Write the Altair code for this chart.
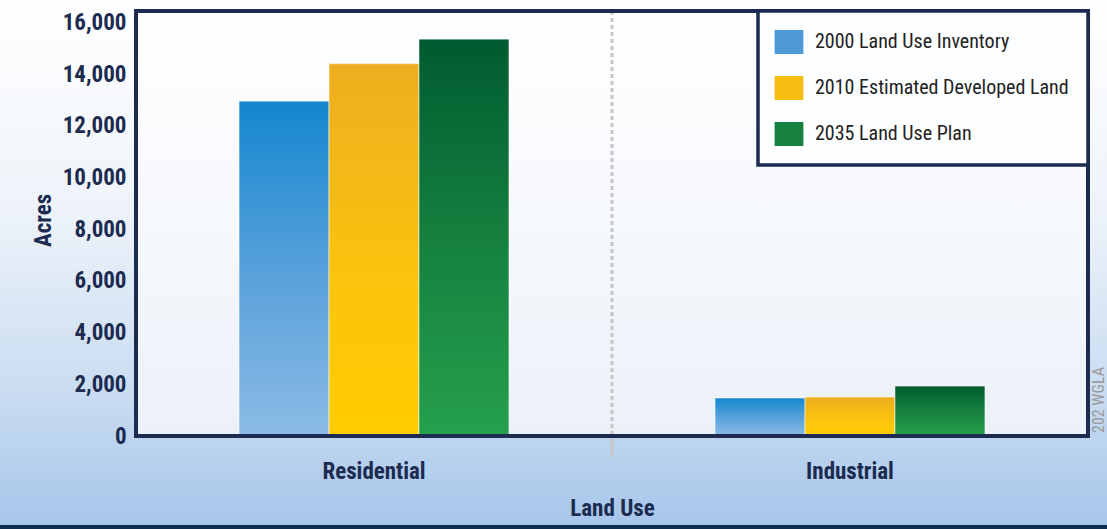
import altair as alt
import pandas as pd

# ---- data ----
categories = ["Residential", "Industrial"]
series = ["2000 Land Use Inventory", "2010 Estimated Developed Land", "2035 Land Use Plan"]
residential_acres = [12950, 14400, 15350]
industrial_acres = [1470, 1510, 1930]
y_ticks = [0, 2000, 4000, 6000, 8000, 10000, 12000, 14000, 16000]
legend_colors = ["#4f9ad6", "#f7bd12", "#17823f"]
watermark = "202  WGLA"

rows = []
for cat, vals in zip(categories, [residential_acres, industrial_acres]):
    for s, v in zip(series, vals):
        rows.append({"land_use": cat, "series": s, "acres": v})
df = pd.DataFrame(rows)

W, H = 952, 425
NAVY = "#1c2b4f"
FONT = "Roboto Condensed, Noto Sans Condensed, Liberation Sans Narrow, DejaVu Sans Condensed, sans-serif"
P_IN = 0.433


def grad(stops):
    return alt.LinearGradient(
        gradient="linear",
        stops=[alt.GradientStop(color=c, offset=o) for o, c in stops],
        x1=0, x2=0, y1=0, y2=1,
    )


bar_grads = [
    grad([(0, "#1487cf"), (0.55, "#5da3db"), (1, "#8bbbe6")]),
    grad([(0, "#eeae20"), (0.6, "#fbc40c"), (1, "#ffcc00")]),
    grad([(0, "#005b30"), (0.5, "#15803f"), (1, "#25a04c")]),
]

x_enc = alt.X(
    "land_use:N",
    sort=categories,
    scale=alt.Scale(paddingInner=P_IN, paddingOuter=P_IN / 2),
    axis=alt.Axis(
        title="Land Use",
        labelAngle=0,
        domain=False,
        ticks=False,
        grid=False,
        labelPadding=24,
        labelFont=FONT,
        labelFontSize=23,
        labelFontWeight="bold",
        labelColor=NAVY,
        titleFont=FONT,
        titleFontSize=23,
        titleFontWeight="bold",
        titleColor=NAVY,
        titlePadding=14,
        zindex=1,
    ),
)
y_enc = alt.Y(
    "acres:Q",
    scale=alt.Scale(domain=[0, 16440], nice=False),
    axis=alt.Axis(
        title="Acres",
        values=y_ticks,
        format=",d",
        domain=False,
        ticks=False,
        grid=False,
        labelPadding=10,
        labelFont=FONT,
        labelFontSize=23,
        labelFontWeight="bold",
        labelColor=NAVY,
        titleFont=FONT,
        titleFontSize=23,
        titleFontWeight="bold",
        titleColor=NAVY,
        titleX=-81,
        titleY=209,
        zindex=1,
    ),
)
xoff = alt.XOffset("series:N", sort=series, scale=alt.Scale(paddingInner=0, paddingOuter=0))

one = alt.Data(values=[{}])

outer_bg = alt.Chart(one).mark_rect(
    color=grad([(0, "#ffffff"), (0.4, "#eef3fa"), (0.75, "#c9dcf1"), (1, "#a6c6ea")])
).encode(
    x=alt.value(-136), x2=alt.value(W + 19), y=alt.value(-11), y2=alt.value(H + 89)
)
bottom_strip = alt.Chart(one).mark_rect(color="#0b2f4f").encode(
    x=alt.value(-136), x2=alt.value(W + 19), y=alt.value(H + 89), y2=alt.value(H + 93)
)
inner_bg = alt.Chart(one).mark_rect(
    color=grad([(0, "#ffffff"), (1, "#ecf1f9")])
).encode(x=alt.value(0), x2=alt.value(W), y=alt.value(0), y2=alt.value(H))

# divider between the two land-use groups (dashed inside, solid below the axis)
divider = alt.Chart(one).mark_rule(color="#c6c6c6", strokeWidth=3, strokeDash=[4, 3]).encode(
    x=alt.value(W / 2), y=alt.value(0), y2=alt.value(H)
)
divider_tick = alt.Chart(one).mark_rule(color="#c6c6c6", strokeWidth=3).encode(
    x=alt.value(W / 2), y=alt.value(H), y2=alt.value(H + 21)
)

legend_bars = alt.Chart(df).mark_bar().encode(
    x=x_enc,
    y=y_enc,
    xOffset=xoff,
    color=alt.Color(
        "series:N",
        sort=series,
        scale=alt.Scale(domain=series, range=legend_colors),
        legend=alt.Legend(
            title=None,
            orient="top-right",
            offset=0,
            fillColor="#fdfeff",
            strokeColor=NAVY,
            padding=19,
            rowPadding=22,
            symbolType="M-1.2,-1H1.2V1H-1.2Z",
            symbolSize=576,
            symbolStrokeWidth=0,
            labelOffset=14,
            labelFont=FONT,
            labelFontSize=20,
            labelColor="#222222",
            labelLimit=400,
        ),
    ),
)

grad_layers = []
for s, g in zip(series, bar_grads):
    grad_layers.append(
        alt.Chart(df).transform_filter(alt.datum.series == s).mark_bar(
            color=g, stroke="#ffffff", strokeWidth=0.8, strokeOpacity=0.7
        ).encode(x=x_enc, y=y_enc, xOffset=xoff)
    )

frame = alt.Chart(one).mark_rect(
    fill="transparent", stroke=NAVY, strokeWidth=4
).encode(x=alt.value(0), x2=alt.value(W), y=alt.value(0), y2=alt.value(H))

mark_text = alt.Chart(one).mark_text(
    text=watermark, angle=270, align="left", baseline="middle",
    font=FONT, fontSize=16, color="#9a9a9a"
).encode(x=alt.value(W + 11), y=alt.value(H - 3))

chart = alt.layer(
    outer_bg, bottom_strip, inner_bg, divider, divider_tick, legend_bars, *grad_layers, frame, mark_text
).properties(
    width=W, height=H,
    autosize=alt.AutoSizeParams(type="none"),
    padding={"left": 136, "top": 11, "right": 19, "bottom": 93},
    background="#ffffff",
).configure_view(
    stroke=None
).configure_legend(
    strokeWidth=3.5
)

chart.save("out.html", embed_options={"renderer": "svg", "actions": False})
